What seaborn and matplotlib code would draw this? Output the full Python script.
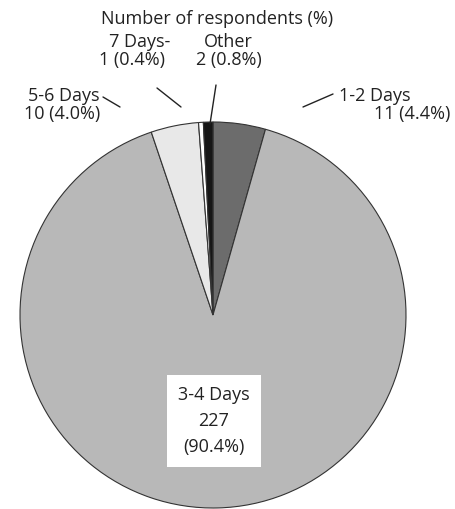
import matplotlib
matplotlib.use("Agg")
import matplotlib.pyplot as plt
import seaborn as sns

# Dados do gráfico (sentido horário a partir do topo)
categories = ["1-2 Days", "3-4 Days", "5-6 Days", "7 Days-", "Other"]
counts = [11, 227, 10, 1, 2]
percents = ["4.4%", "90.4%", "4.0%", "0.4%", "0.8%"]
title = "Number of respondents (%)"

sns.set_theme(style="white")
plt.rcParams["font.family"] = ["Open Sans", "DejaVu Sans"]

colors = ["#6c6c6c", "#b8b8b8", "#e8e8e8", "#ffffff", "#161616"]

fig = plt.figure(figsize=(4.56, 5.09), dpi=100)
ax = fig.add_axes([0, 0, 1, 1])

ax.pie(counts, colors=colors, startangle=90, counterclock=False,
       radius=1.0, wedgeprops=dict(edgecolor="#333333", linewidth=0.8))

# eixos: 1 unidade = 193 px, centro da pizza em (213, 315) px
ax.set_xlim(-213 / 193, 243 / 193)
ax.set_ylim(-194 / 193, 315 / 193)
ax.set_aspect("auto")
ax.axis("off")


def px(x, y):
    return (x - 213) / 193, (315 - y) / 193


fs = 13
tc = "#222222"
ax.text(*px(217, 19), title, ha="center", va="center", fontsize=fs, color=tc)

# rótulos externos
lab = [f"{c}" for c in categories]
val = [f"{n} ({p})" for n, p in zip(counts, percents)]

ax.text(*px(339, 96), lab[0], ha="left", va="center", fontsize=fs, color=tc)
ax.text(*px(450, 114), val[0], ha="right", va="center", fontsize=fs, color=tc)

ax.text(*px(100, 96), lab[2], ha="right", va="center", fontsize=fs, color=tc)
ax.text(*px(100, 114), val[2], ha="right", va="center", fontsize=fs, color=tc)

ax.text(*px(140, 42), lab[3], ha="center", va="center", fontsize=fs, color=tc)
ax.text(*px(132, 60), val[3], ha="center", va="center", fontsize=fs, color=tc)

ax.text(*px(228, 42), lab[4], ha="center", va="center", fontsize=fs, color=tc)
ax.text(*px(229, 60), val[4], ha="center", va="center", fontsize=fs, color=tc)

# linhas de chamada
for (x0, y0), (x1, y1) in [((333, 94), (303, 107)), ((103, 97), (120, 107)),
                           ((157, 88), (181, 107)), ((216, 85), (210, 124))]:
    a, b = px(x0, y0)
    c, d = px(x1, y1)
    ax.plot([a, c], [b, d], color="#222222", linewidth=1.0)

# rótulo interno
ax.text(*px(214, 421), f"{lab[1]}\n{counts[1]}\n({percents[1]})", ha="center",
        va="center", fontsize=fs, color=tc, linespacing=1.55,
        bbox=dict(facecolor="white", edgecolor="none", pad=8))

fig.savefig("out.png", dpi=100)
